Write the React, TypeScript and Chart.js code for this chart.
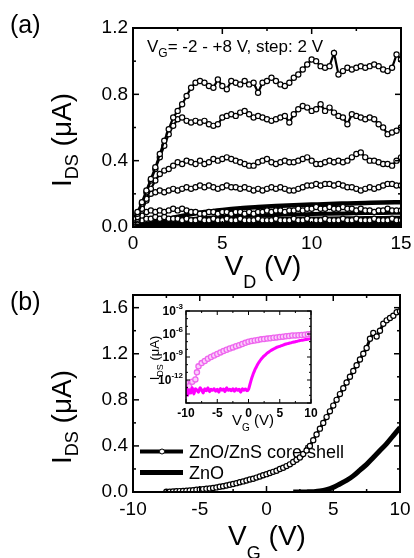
import React, { useEffect, useRef } from "react";
import { Chart, registerables } from "chart.js";
Chart.register(...registerables);

const FONT = '"Liberation Sans", Arial, Helvetica, sans-serif';

// ---------- Panel (a): output characteristics ----------
const VD_A = [0,0.25,0.5,0.75,1,1.25,1.5,1.75,2,2.25,2.5,2.75,3,3.25,3.5,3.75,4,4.25,4.5,4.75,5,5.25,5.5,5.75,6,6.25,6.5,6.75,7,7.25,7.5,7.75,8,8.25,8.5,8.75,9,9.25,9.5,9.75,10,10.25,10.5,10.75,11,11.25,11.5,11.75,12,12.25,12.5,12.75,13,13.25,13.5,13.75,14,14.25,14.5,14.75,15];
const CS_A_VG8 = [0.05,0.09,0.15,0.22,0.29,0.36,0.44,0.52,0.59,0.66,0.70,0.74,0.79,0.84,0.87,0.88,0.87,0.85,0.84,0.89,0.85,0.83,0.88,0.87,0.86,0.88,0.86,0.87,0.81,0.87,0.88,0.90,0.88,0.86,0.85,0.87,0.90,0.92,0.95,0.98,1.01,1.00,0.97,0.96,0.97,1.05,0.92,0.94,0.96,0.95,0.96,0.97,0.96,0.97,0.98,0.97,0.95,0.94,0.96,1.04,1.01];
const CS_A_VG6 = [0.04,0.08,0.14,0.21,0.28,0.35,0.42,0.49,0.56,0.61,0.65,0.66,0.64,0.63,0.64,0.63,0.64,0.62,0.61,0.62,0.66,0.67,0.68,0.67,0.69,0.70,0.68,0.66,0.67,0.66,0.65,0.64,0.65,0.66,0.67,0.63,0.68,0.71,0.73,0.72,0.70,0.71,0.74,0.70,0.72,0.69,0.67,0.66,0.62,0.68,0.67,0.66,0.65,0.66,0.65,0.62,0.60,0.56,0.57,0.58,0.60];
const CS_A_VG4 = [0.03,0.06,0.11,0.17,0.23,0.28,0.32,0.34,0.35,0.37,0.39,0.38,0.40,0.39,0.38,0.40,0.38,0.39,0.41,0.40,0.41,0.42,0.41,0.40,0.39,0.38,0.37,0.37,0.39,0.40,0.41,0.39,0.38,0.39,0.40,0.39,0.39,0.40,0.41,0.42,0.40,0.38,0.38,0.39,0.40,0.39,0.40,0.39,0.40,0.42,0.44,0.45,0.42,0.40,0.40,0.39,0.38,0.38,0.37,0.40,0.42];
const CS_A_VG2 = [0.02,0.05,0.10,0.16,0.20,0.21,0.22,0.21,0.22,0.23,0.22,0.23,0.24,0.23,0.24,0.25,0.24,0.25,0.24,0.23,0.24,0.25,0.24,0.24,0.23,0.24,0.23,0.22,0.23,0.22,0.23,0.24,0.23,0.24,0.23,0.22,0.22,0.23,0.24,0.25,0.25,0.26,0.25,0.26,0.26,0.25,0.26,0.25,0.24,0.24,0.23,0.22,0.23,0.24,0.23,0.24,0.25,0.26,0.26,0.25,0.25];
const CS_A_VG0 = [0.01,0.04,0.07,0.09,0.10,0.09,0.10,0.09,0.10,0.11,0.10,0.11,0.10,0.09,0.09,0.08,0.08,0.09,0.09,0.08,0.09,0.09,0.08,0.09,0.09,0.08,0.09,0.08,0.09,0.09,0.10,0.09,0.10,0.10,0.09,0.10,0.10,0.11,0.10,0.11,0.11,0.12,0.11,0.11,0.12,0.11,0.11,0.12,0.11,0.11,0.10,0.11,0.10,0.10,0.09,0.10,0.10,0.11,0.10,0.10,0.10];
const CS_A_VGM2 = [0.01,0.03,0.04,0.05,0.05,0.06,0.05,0.06,0.05,0.05,0.05,0.04,0.05,0.04,0.04,0.05,0.04,0.04,0.05,0.04,0.04,0.05,0.04,0.04,0.05,0.04,0.04,0.04,0.05,0.04,0.04,0.04,0.05,0.04,0.04,0.04,0.05,0.04,0.04,0.05,0.04,0.04,0.04,0.05,0.04,0.04,0.04,0.05,0.04,0.04,0.05,0.04,0.04,0.04,0.05,0.04,0.04,0.04,0.05,0.04,0.04];

const VD_SOLID = [0,0.5,1,1.5,2,3,4,5,6,7,8,9,10,11,12,13,14,15];
const ZNO_A_VG8 = [0,0.012,0.025,0.038,0.05,0.072,0.09,0.103,0.113,0.12,0.126,0.131,0.135,0.139,0.142,0.145,0.148,0.15];
const ZNO_A_VG6 = [0,0.007,0.015,0.023,0.031,0.044,0.054,0.061,0.066,0.07,0.073,0.076,0.078,0.08,0.082,0.084,0.085,0.086];
const ZNO_A_VG4 = [0,0.005,0.01,0.015,0.02,0.029,0.036,0.041,0.044,0.046,0.048,0.05,0.051,0.052,0.053,0.054,0.055,0.056];
const ZNO_A_VG2 = [0,0.003,0.006,0.009,0.012,0.018,0.023,0.026,0.028,0.03,0.031,0.032,0.033,0.034,0.034,0.035,0.035,0.036];
const ZNO_A_VG0 = [0,0.002,0.004,0.006,0.008,0.011,0.013,0.015,0.016,0.017,0.018,0.018,0.019,0.019,0.02,0.02,0.02,0.021];
const ZNO_A_VGM2 = [0,0.001,0.002,0.003,0.004,0.005,0.006,0.007,0.007,0.008,0.008,0.008,0.009,0.009,0.009,0.009,0.01,0.01];

const A_X_MAJOR = [0, 5, 10, 15];
const A_X_MINOR = [2.5, 7.5, 12.5];
const A_Y_MAJOR = [0, 0.4, 0.8, 1.2];
const A_Y_MINOR = [0.2, 0.6, 1.0];

// ---------- Panel (b): transfer characteristics ----------
const VG_B_CS = [-7.5,-7.25,-7,-6.75,-6.5,-6.25,-6,-5.75,-5.5,-5.25,-5,-4.75,-4.5,-4.25,-4,-3.75,-3.5,-3.25,-3,-2.75,-2.5,-2.25,-2,-1.75,-1.5,-1.25,-1,-0.75,-0.5,-0.25,0,0.25,0.5,0.75,1,1.25,1.5,1.75,2,2.25,2.5,2.75,3,3.25,3.5,3.75,4,4.25,4.5,4.75,5,5.25,5.5,5.75,6,6.25,6.5,6.75,7,7.25,7.5,7.75,8,8.25,8.5,8.75,9,9.25,9.5,9.75,10];
const CS_B = [0.002,0.003,0.005,0.006,0.008,0.009,0.011,0.013,0.016,0.019,0.022,0.025,0.028,0.031,0.035,0.04,0.045,0.05,0.057,0.063,0.07,0.077,0.085,0.092,0.10,0.108,0.115,0.125,0.135,0.145,0.155,0.165,0.175,0.185,0.20,0.21,0.225,0.24,0.26,0.28,0.30,0.33,0.36,0.40,0.45,0.50,0.55,0.60,0.65,0.70,0.75,0.80,0.85,0.90,0.95,1.00,1.05,1.10,1.15,1.20,1.25,1.33,1.38,1.35,1.40,1.46,1.49,1.51,1.53,1.56,1.57];
const VG_B_ZNO = [2,2.5,3,3.5,4,4.5,5,5.5,6,6.5,7,7.5,8,8.5,9,9.5,10];
const ZNO_B = [0,0,0.001,0.003,0.008,0.02,0.04,0.07,0.1,0.14,0.19,0.24,0.30,0.36,0.42,0.49,0.56];

const B_X_MAJOR = [-10, -5, 0, 5, 10];
const B_X_MINOR = [-7.5, -2.5, 2.5, 7.5];
const B_Y_MAJOR = [0, 0.4, 0.8, 1.2, 1.6];
const B_Y_MINOR = [0.2, 0.6, 1.0, 1.4];

// ---------- Inset (log scale) ----------
const IN_X_CS = [-10,-9.5,-9,-8.5,-8.25,-8,-7.5,-7,-6.5,-6,-5.5,-5,-4.5,-4,-3.5,-3,-2.5,-2,-1.5,-1,-0.5,0,0.5,1,1.5,2,2.5,3,3.5,4,4.5,5,5.5,6,6.5,7,7.5,8,8.5,9,9.5,10];
const IN_CS = [4e-13,1.5e-13,6e-13,1.2e-12,1e-11,6e-11,1.6e-10,3e-10,6e-10,1e-9,1.6e-9,2.5e-9,4e-9,6e-9,9e-9,1.3e-8,1.8e-8,2.5e-8,3.5e-8,5e-8,7e-8,1e-7,1.2e-7,1.4e-7,1.7e-7,2e-7,2.2e-7,2.5e-7,2.8e-7,3.2e-7,3.6e-7,4e-7,4.5e-7,5e-7,5.6e-7,6.3e-7,6.6e-7,7e-7,7.5e-7,8e-7,9e-7,1e-6];
const IN_X_ZNO = [-10,-9.75,-9.5,-9.25,-9,-8.75,-8.5,-8.25,-8,-7.75,-7.5,-7.25,-7,-6.75,-6.5,-6.25,-6,-5.75,-5.5,-5.25,-5,-4.75,-4.5,-4.25,-4,-3.75,-3.5,-3.25,-3,-2.75,-2.5,-2.25,-2,-1.75,-1.5,-1.25,-1,-0.75,-0.5,-0.25,0,0.25,0.5,0.75,1,1.25,1.5,1.75,2,2.25,2.5,2.75,3,3.25,3.5,3.75,4,4.25,4.5,4.75,5,5.25,5.5,5.75,6,6.25,6.5,6.75,7,7.25,7.5,7.75,8,8.25,8.5,8.75,9,9.25,9.5,9.75,10];
const IN_ZNO = [1.5e-13,1e-14,5e-14,2e-14,1e-13,1.5e-14,7e-14,5e-14,2.5e-14,1e-13,5e-14,2e-14,7e-14,4e-14,1e-13,3e-14,6e-14,4.5e-14,7e-14,3.5e-14,6e-14,2.5e-14,8e-14,4.5e-14,6.5e-14,3e-14,1e-13,4.5e-14,6e-14,4e-14,7e-14,3.5e-14,7e-14,4.5e-14,6e-14,2.5e-14,7e-14,4.5e-14,6.5e-14,4e-14,6e-14,3e-13,1.6e-12,6e-12,2e-11,5e-11,1.26e-10,2.5e-10,5e-10,8.5e-10,1.4e-9,2.1e-9,3.2e-9,4.5e-9,6.3e-9,8.5e-9,1.1e-8,1.4e-8,1.8e-8,2.1e-8,2.5e-8,3e-8,3.5e-8,4.3e-8,5e-8,5.6e-8,6.3e-8,7e-8,8e-8,9e-8,1e-7,1.1e-7,1.26e-7,1.4e-7,1.5e-7,1.6e-7,1.8e-7,1.9e-7,2.1e-7,2.3e-7,2.5e-7];

const IN_X_MAJOR = [-10, -5, 0, 5, 10];
const IN_X_MINOR = [-7.5, -2.5, 2.5, 7.5];
const IN_Y_LABEL_EXP = [-3, -6, -9, -12];
const IN_Y_MAJOR = [1e-3, 1e-6, 1e-9, 1e-12, 1e-15];
const IN_Y_MINOR = [1e-4, 1e-5, 1e-7, 1e-8, 1e-10, 1e-11, 1e-13, 1e-14];

// ---------- helpers ----------
type Seg = { t: string; s: number; dy?: number; b?: boolean };
function rich(ctx: CanvasRenderingContext2D, segs: Seg[], x: number, y: number, align: "left" | "center" | "right" = "left", rot = false) {
  ctx.save();
  ctx.translate(x, y);
  if (rot) ctx.rotate(-Math.PI / 2);
  ctx.fillStyle = "#000";
  ctx.textAlign = "left";
  ctx.textBaseline = "alphabetic";
  const f = (g: Seg) => `${g.b ? "bold " : ""}${g.s}px ${FONT}`;
  const ws = segs.map((g) => { ctx.font = f(g); return ctx.measureText(g.t).width; });
  const tot = ws.reduce((p, c) => p + c, 0);
  let cx = align === "left" ? 0 : align === "center" ? -tot / 2 : -tot;
  segs.forEach((g, i) => { ctx.font = f(g); ctx.fillText(g.t, cx, g.dy || 0); cx += ws[i]; });
  ctx.restore();
}

type FrameOpts = {
  xMajor: number[]; xMinor: number[]; yMajor: number[]; yMinor: number[];
  lw: number; tlw: number; maj: number; min: number;
  under?: (ctx: CanvasRenderingContext2D, chart: any) => void;
  over?: (ctx: CanvasRenderingContext2D, chart: any) => void;
};
function framePlugin(o: FrameOpts) {
  return {
    id: "frame",
    beforeDatasetsDraw(chart: any) {
      if (o.under) { chart.ctx.save(); o.under(chart.ctx, chart); chart.ctx.restore(); }
    },
    afterDatasetsDraw(chart: any) {
      const ctx: CanvasRenderingContext2D = chart.ctx;
      const a = chart.chartArea;
      const xs = chart.scales.x, ys = chart.scales.y;
      ctx.save();
      ctx.strokeStyle = "#000";
      ctx.lineWidth = o.tlw;
      const seg = (x1: number, y1: number, x2: number, y2: number) => { ctx.beginPath(); ctx.moveTo(x1, y1); ctx.lineTo(x2, y2); ctx.stroke(); };
      const xt = (vals: number[], len: number) => vals.forEach((v) => { const p = xs.getPixelForValue(v); seg(p, a.bottom, p, a.bottom - len); seg(p, a.top, p, a.top + len); });
      const yt = (vals: number[], len: number) => vals.forEach((v) => { const p = ys.getPixelForValue(v); seg(a.left, p, a.left + len, p); seg(a.right, p, a.right - len, p); });
      xt(o.xMajor, o.maj); xt(o.xMinor, o.min); yt(o.yMajor, o.maj); yt(o.yMinor, o.min);
      ctx.lineWidth = o.lw;
      ctx.strokeRect(a.left, a.top, a.right - a.left, a.bottom - a.top);
      ctx.restore();
      if (o.over) { ctx.save(); o.over(ctx, chart); ctx.restore(); }
    },
  };
}

const pts = (xs: number[], ys: number[]) => ys.map((y, i) => ({ x: xs[i], y }));
const circleDs = (xs: number[], ys: number[], lw = 2.2, r = 2.6) => ({
  data: pts(xs, ys), borderColor: "#000", borderWidth: lw, pointRadius: r, pointHoverRadius: r,
  pointBorderWidth: 1.2, pointBorderColor: "#000", pointBackgroundColor: "#fff", tension: 0, fill: false,
});
const solidDs = (xs: number[], ys: number[], w: number, color = "#000") => ({
  data: pts(xs, ys), borderColor: color, borderWidth: w, pointRadius: 0, pointHoverRadius: 0,
  tension: 0.4, cubicInterpolationMode: "monotone", fill: false,
});
const xAxis = (min: number, max: number, step: number, h: number, size: number, pad: number, bold = false) => ({
  type: "linear", min, max,
  grid: { display: false, drawTicks: false }, border: { display: false },
  afterFit: (s: any) => { s.height = h; s.paddingLeft = 0; s.paddingRight = 0; },
  ticks: { stepSize: step, padding: pad, color: "#000", maxRotation: 0, autoSkip: false, includeBounds: false,
    font: { family: FONT, size, weight: bold ? "bold" : "normal" } },
});
const yAxis = (min: number, max: number, step: number, w: number, size: number, pad: number) => ({
  type: "linear", min, max,
  grid: { display: false, drawTicks: false }, border: { display: false },
  afterFit: (s: any) => { s.width = w; s.paddingTop = 0; s.paddingBottom = 0; },
  ticks: { stepSize: step, padding: pad, color: "#000", autoSkip: false, includeBounds: false,
    font: { family: FONT, size }, callback: (v: any) => Number(v).toFixed(1) },
});
const base = (padding: any) => ({
  animation: false, responsive: false, maintainAspectRatio: false,
  layout: { padding },
  plugins: { legend: { display: false }, tooltip: { enabled: false } },
  events: [],
});

function cfgA(): any {
  return {
    type: "line",
    data: {
      datasets: [
        circleDs(VD_A, CS_A_VG8), circleDs(VD_A, CS_A_VG6), circleDs(VD_A, CS_A_VG4),
        circleDs(VD_A, CS_A_VG2), circleDs(VD_A, CS_A_VG0), circleDs(VD_A, CS_A_VGM2),
        solidDs(VD_SOLID, ZNO_A_VG8, 4.5), solidDs(VD_SOLID, ZNO_A_VG6, 4), solidDs(VD_SOLID, ZNO_A_VG4, 4),
        solidDs(VD_SOLID, ZNO_A_VG2, 4), solidDs(VD_SOLID, ZNO_A_VG0, 4), solidDs(VD_SOLID, ZNO_A_VGM2, 4),
      ],
    },
    options: {
      ...base({ top: 28, right: 13, left: 0, bottom: 0 }),
      scales: { x: xAxis(0, 15, 5, 68, 19, 5), y: yAxis(0, 1.2, 0.4, 133, 19, 5) },
    },
    plugins: [framePlugin({
      xMajor: A_X_MAJOR, xMinor: A_X_MINOR, yMajor: A_Y_MAJOR, yMinor: A_Y_MINOR,
      lw: 2, tlw: 1.5, maj: 6, min: 3,
      over: (ctx) => {
        rich(ctx, [{ t: "(a)", s: 25 }], 10, 33);
        rich(ctx, [{ t: "I", s: 28 }, { t: "DS", s: 18, dy: 7 }, { t: " (\u03BCA)", s: 28 }], 71, 140, "center", true);
        rich(ctx, [{ t: "V", s: 28 }, { t: "D", s: 18, dy: 13 }, { t: " (V)", s: 28 }], 263, 275, "center");
        rich(ctx, [{ t: "V", s: 17 }, { t: "G", s: 12, dy: 5 }, { t: "= -2 - +8 V, step: 2 V", s: 17 }], 147, 52);
      },
    })],
  };
}

function cfgB(): any {
  return {
    type: "line",
    data: {
      datasets: [circleDs(VG_B_CS, CS_B, 3, 2.6), solidDs(VG_B_ZNO, ZNO_B, 5)],
    },
    options: {
      ...base({ top: 15, right: 14, left: 0, bottom: 0 }),
      scales: { x: xAxis(-10, 10, 5, 66, 19, 6), y: yAxis(0, 1.71, 0.4, 133, 19, 5) },
    },
    plugins: [framePlugin({
      xMajor: B_X_MAJOR, xMinor: B_X_MINOR, yMajor: B_Y_MAJOR, yMinor: B_Y_MINOR,
      lw: 2, tlw: 1.5, maj: 6, min: 3,
      under: (ctx) => {
        ctx.strokeStyle = "#000";
        ctx.lineWidth = 4;
        ctx.beginPath(); ctx.moveTo(140, 171.5); ctx.lineTo(183, 171.5); ctx.stroke();
        ctx.lineWidth = 1; ctx.fillStyle = "#fff";
        ctx.beginPath(); ctx.arc(162, 171.5, 2.5, 0, Math.PI * 2); ctx.fill(); ctx.stroke();
        ctx.lineWidth = 5;
        ctx.beginPath(); ctx.moveTo(140, 192.5); ctx.lineTo(183, 192.5); ctx.stroke();
        rich(ctx, [{ t: "ZnO/ZnS core/shell", s: 18 }], 189, 178);
        rich(ctx, [{ t: "ZnO", s: 18 }], 189, 199);
      },
      over: (ctx) => {
        rich(ctx, [{ t: "(b)", s: 25 }], 10, 30);
        rich(ctx, [{ t: "I", s: 28 }, { t: "DS", s: 18, dy: 7 }, { t: " (\u03BCA)", s: 28 }], 71, 137, "center", true);
        rich(ctx, [{ t: "V", s: 28 }, { t: "G", s: 18, dy: 14 }, { t: " (V)", s: 28 }], 267, 265, "center");
      },
    })],
  };
}

function cfgInset(): any {
  return {
    type: "line",
    data: {
      datasets: [
        solidDs(IN_X_ZNO, IN_ZNO, 3, "#ff00ff"),
        {
          data: pts(IN_X_CS, IN_CS), borderColor: "#f07cf0", borderWidth: 1.5, pointRadius: 2.6, pointHoverRadius: 2.6,
          pointBorderWidth: 1.3, pointBorderColor: "#ee66ee", pointBackgroundColor: "#fbd0fb", tension: 0, fill: false,
        },
      ],
    },
    options: {
      ...base({ top: 11, right: 9, left: 0, bottom: 0 }),
      scales: {
        x: xAxis(-10, 10, 5, 32, 12, 3, true),
        y: {
          type: "logarithmic", min: 1e-15, max: 1e-3,
          grid: { display: false, drawTicks: false }, border: { display: false },
          afterFit: (s: any) => { s.width = 46; s.paddingTop = 0; s.paddingBottom = 0; },
          ticks: { display: false },
        },
      },
    },
    plugins: [framePlugin({
      xMajor: IN_X_MAJOR, xMinor: IN_X_MINOR, yMajor: IN_Y_MAJOR, yMinor: IN_Y_MINOR,
      lw: 1.5, tlw: 1, maj: 4, min: 2,
      over: (ctx, chart) => {
        const ys = chart.scales.y;
        IN_Y_LABEL_EXP.forEach((e) => {
          const p = ys.getPixelForValue(Math.pow(10, e));
          rich(ctx, [{ t: "10", s: 12, b: true }, { t: String(e), s: 8, b: true, dy: -6 }], 43, p + 4, "right");
        });
        rich(ctx, [{ t: "I", s: 13 }, { t: "DS", s: 9, dy: 4 }, { t: " (\u03BCA)", s: 13 }], 19, 58, "center", true);
        rich(ctx, [{ t: "V", s: 15 }, { t: "G", s: 10, dy: 6 }, { t: " (V)", s: 15 }], 113, 125, "center");
      },
    })],
  };
}

export default function App() {
  const refA = useRef<HTMLCanvasElement>(null);
  const refB = useRef<HTMLCanvasElement>(null);
  const refI = useRef<HTMLCanvasElement>(null);
  useEffect(() => {
    const a = new Chart(refA.current as HTMLCanvasElement, cfgA());
    const b = new Chart(refB.current as HTMLCanvasElement, cfgB());
    const i = new Chart(refI.current as HTMLCanvasElement, cfgInset());
    return () => { a.destroy(); b.destroy(); i.destroy(); };
  }, []);
  return (
    <div style={{ position: "absolute", left: 0, top: 0, width: 414, height: 558, background: "#fff", overflow: "hidden" }}>
      <canvas ref={refB} width={414} height={278} style={{ position: "absolute", left: 0, top: 280, width: 414, height: 278 }} />
      <canvas ref={refA} width={414} height={295} style={{ position: "absolute", left: 0, top: 0, width: 414, height: 295 }} />
      <canvas ref={refI} width={180} height={135} style={{ position: "absolute", left: 140, top: 300, width: 180, height: 135 }} />
    </div>
  );
}
